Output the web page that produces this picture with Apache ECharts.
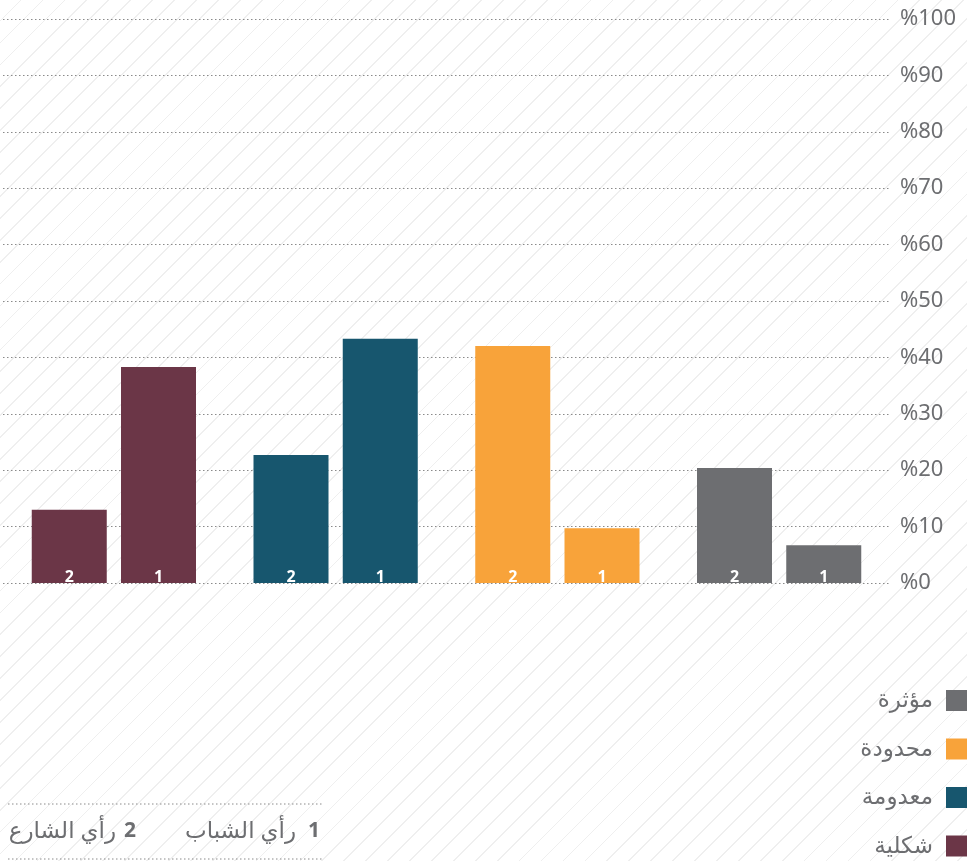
<!doctype html>
<meta charset="utf-8">
<title>رأي الشباب ورأي الشارع</title>
<style>
	html, body {
		margin: 0;
		padding: 0;
	}
	body {
		background: #fff repeating-linear-gradient(135deg, transparent 0 14.3px, #efefef 14.3px 15.5px);
	}
	#chart {
		width: 967px;
		height: 861px;
	}
</style>
<div id="chart"></div>
<script src="https://cdn.jsdelivr.net/npm/echarts@6/dist/echarts.min.js"></script>
<script>
	// categories left to right
	const categories = ['شكلية', 'معدومة', 'محدودة', 'مؤثرة'];
	const colors = ['#6b3647', '#17566e', '#f8a33a', '#6d6e71'];
	// 2 = رأي الشارع, 1 = رأي الشباب (percent)
	const street = [13, 22.7, 42, 20.4];
	const youth = [38.3, 43.3, 9.7, 6.7];
	const yTicks = [0, 10, 20, 30, 40, 50, 60, 70, 80, 90, 100];
	const legendOrder = ['مؤثرة', 'محدودة', 'معدومة', 'شكلية'];

	const grey = '#6d6e71';
	const fontFam = '"Noto Sans", "DejaVu Sans", sans-serif';

	function barSeries(name, values, tag) {
		return {
			name: name,
			type: 'bar',
			barWidth: 75,
			barGap: '19%',
			data: values.map(function (v, i) {
				return { value: v, itemStyle: { color: colors[i] } };
			}),
			label: {
				show: true,
				position: 'insideBottom',
				distance: -2,
				formatter: tag,
				color: '#fff',
				fontWeight: 'bold',
				fontSize: 16,
				fontFamily: fontFam
			},
			emphasis: { disabled: true }
		};
	}

	var series = [
		barSeries('رأي الشارع', street, '2'),
		barSeries('رأي الشباب', youth, '1')
	];
	// empty series only to feed the legend
	categories.forEach(function (c, i) {
		series.push({ name: c, type: 'line', data: [], itemStyle: { color: colors[i] } });
	});

	var chart = echarts.init(document.getElementById('chart'));
	chart.setOption({
		animation: false,
		grid: { left: 3, right: 77, top: 19, bottom: 278, containLabel: false },
		xAxis: {
			type: 'category',
			data: categories,
			axisLine: { show: false },
			axisTick: { show: false },
			axisLabel: { show: false }
		},
		yAxis: {
			type: 'value',
			position: 'right',
			min: yTicks[0],
			max: yTicks[yTicks.length - 1],
			interval: 10,
			axisLine: { show: false },
			axisTick: { show: false },
			axisLabel: {
				margin: 10,
				align: 'left',
				color: grey,
				fontSize: 22,
				fontFamily: fontFam,
				formatter: function (v) { return '%' + v; }
			},
			splitLine: { lineStyle: { type: [1.5, 2.5], color: '#8a8a8a', width: 1 } }
		},
		legend: {
			orient: 'vertical',
			right: 0,
			top: 689,
			height: 400,
			padding: 0,
			align: 'right',
			itemWidth: 21,
			itemHeight: 21,
			itemGap: 25.5,
			icon: 'rect',
			data: legendOrder,
			textStyle: { color: grey, fontSize: 23, lineHeight: 21, fontFamily: fontFam, padding: [0, 8, 0, 0] },
			selectedMode: false
		},
		graphic: [
			{ type: 'line', shape: { x1: 8, y1: 804, x2: 323, y2: 804 }, style: { stroke: '#8a8a8a', lineWidth: 1, lineDash: [1.5, 2.5] } },
			{ type: 'line', shape: { x1: 8, y1: 859, x2: 323, y2: 859 }, style: { stroke: '#8a8a8a', lineWidth: 1, lineDash: [1.5, 2.5] } },
			{ type: 'text', x: 320, y: 831, style: { text: '1', fill: grey, font: 'bold 21px ' + fontFam, align: 'right', verticalAlign: 'middle' } },
			{ type: 'text', x: 296, y: 831, style: { text: 'رأي الشباب', fill: grey, font: '23px ' + fontFam, align: 'right', verticalAlign: 'middle' } },
			{ type: 'text', x: 136, y: 831, style: { text: '2', fill: grey, font: 'bold 21px ' + fontFam, align: 'right', verticalAlign: 'middle' } },
			{ type: 'text', x: 116, y: 831, style: { text: 'رأي الشارع', fill: grey, font: '23px ' + fontFam, align: 'right', verticalAlign: 'middle' } }
		],
		series: series
	});
</script>
